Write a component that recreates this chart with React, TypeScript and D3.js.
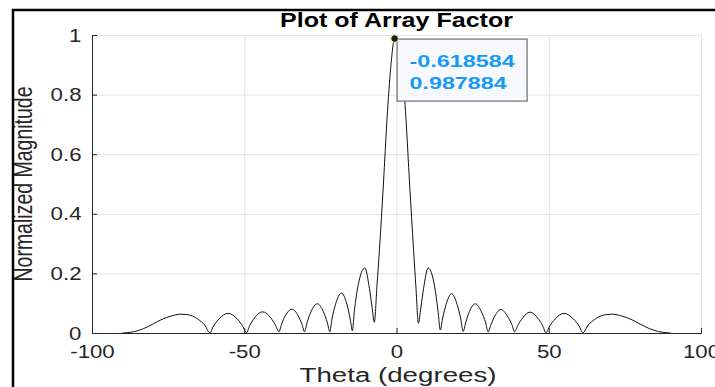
import * as d3 from 'd3';
import { useEffect, useRef } from 'react';

const thetaDeg = [
  -90, -88.5, -86, -83, -80, -77, -74, -71, -69, -67, -65, -63, -61.3,
  -60.1, -58.3, -55.3, -52.3, -50.5, -49.3,
  -48.2, -46.6, -44.0, -41.3, -39.7, -38.6,
  -37.8, -36.5, -34.4, -32.3, -31.0, -30.2,
  -29.4, -28.1, -26.0, -24.0, -22.7, -21.9,
  -21.2, -20.0, -18.1, -16.3, -15.2, -14.5,
  -13.8, -12.6, -10.4, -8.9, -8.0, -7.3,
  -6.4, -5.6, -4.3, -3.1, -1.9, -0.618584, 0.62, 1.9, 3.1, 4.3, 5.6, 6.4, 7.2,
  8.0, 8.9, 10.4, 12.5, 13.6, 14.4,
  15.1, 16.3, 18.1, 19.9, 21.1, 21.9,
  22.7, 23.9, 25.9, 27.9, 29.3, 30.1,
  31.0, 32.3, 34.3, 36.4, 37.9, 38.8,
  39.8, 41.4, 43.8, 46.4, 48.0, 49.1,
  50.3, 52.1, 55.0, 58.1, 60.0, 61.2,
  63, 65, 67, 69, 71, 74, 77, 80, 83, 86, 88.5, 90,
];
const magnitude = [
  0, 0.001, 0.005, 0.015, 0.03, 0.046, 0.057, 0.063, 0.062, 0.057, 0.045, 0.027, 0.001,
  0.023, 0.047, 0.066, 0.047, 0.023, 0.001,
  0.025, 0.051, 0.071, 0.051, 0.025, 0.004,
  0.028, 0.058, 0.08, 0.058, 0.028, 0.004,
  0.034, 0.071, 0.098, 0.071, 0.034, 0.004,
  0.047, 0.097, 0.134, 0.097, 0.047, 0.008,
  0.077, 0.16, 0.218, 0.15, 0.085, 0.036,
  0.16, 0.28, 0.5, 0.72, 0.89, 0.987884, 0.988, 0.89, 0.72, 0.5, 0.28, 0.15, 0.033,
  0.085, 0.15, 0.218, 0.157, 0.077, 0.01,
  0.047, 0.096, 0.132, 0.096, 0.047, 0.005,
  0.034, 0.071, 0.098, 0.071, 0.034, 0.004,
  0.028, 0.057, 0.079, 0.057, 0.028, 0.004,
  0.025, 0.05, 0.07, 0.05, 0.025, 0.001,
  0.023, 0.047, 0.066, 0.047, 0.023, 0.001,
  0.027, 0.045, 0.057, 0.062, 0.063, 0.057, 0.046, 0.03, 0.015, 0.005, 0.001, 0,
];
const xTicks = [-100, -50, 0, 50, 100];
const yTicks = [0, 0.2, 0.4, 0.6, 0.8, 1];
const tipTheta = -0.618584;
const tipValue = 0.987884;

const width = 715;
const height = 387;
const font = "'Liberation Sans', Arial, Helvetica, sans-serif";

const App = () => {
  const ref = useRef<SVGSVGElement>(null);

  useEffect(() => {
    const svg = d3.select(ref.current);
    svg.selectAll('*').remove();

    const x = d3.scaleLinear().domain([-100, 100]).range([92, 701]);
    const y = d3.scaleLinear().domain([0, 1]).range([333, 35]);
    const plotH = y(0) - y(1);
    const plotW = x(100) - x(-100);

    // grid
    svg.append('g')
      .attr('transform', 'translate(0,' + y(0) + ')')
      .call(d3.axisBottom(x).tickValues(xTicks).tickSize(-plotH).tickFormat(() => ''))
      .call((g) => g.select('.domain').remove())
      .selectAll('line').attr('stroke', '#e4e4e4');
    svg.append('g')
      .attr('transform', 'translate(' + x(-100) + ',0)')
      .call(d3.axisLeft(y).tickValues(yTicks).tickSize(-plotW).tickFormat(() => ''))
      .call((g) => g.select('.domain').remove())
      .selectAll('line').attr('stroke', '#e4e4e4');

    // curve
    const line = d3.line<number>()
      .x((d, i) => x(thetaDeg[i]))
      .y((d) => y(d))
      .curve(d3.curveMonotoneX);
    svg.append('path')
      .attr('d', line(magnitude) as string)
      .attr('fill', 'none')
      .attr('stroke', '#111')
      .attr('stroke-width', 1);

    // axes, MATLAB style ticks pointing inward
    const xAxis = svg.append('g')
      .attr('transform', 'translate(0,' + y(0) + ')')
      .call(d3.axisBottom(x).tickValues(xTicks).tickSizeInner(-5).tickSizeOuter(0).tickPadding(12)
        .tickFormat((d: any) => String(d)));
    const yAxis = svg.append('g')
      .attr('transform', 'translate(' + x(-100) + ',0)')
      .call(d3.axisLeft(y).tickValues(yTicks).tickSizeInner(-5).tickSizeOuter(0).tickPadding(9)
        .tickFormat((d: any) => String(d)));
    [xAxis, yAxis].forEach((g) => {
      g.select('.domain').attr('stroke', '#262626');
      g.selectAll('line').attr('stroke', '#262626');
      g.selectAll('text')
        .attr('fill', '#262626')
        .style('font-family', font)
        .style('font-size', '19px')
        .attr('transform', 'scale(1.17,1)');
    });

    // labels
    svg.append('text')
      .attr('x', (x(-100) + x(100)) / 2)
      .attr('y', 27)
      .attr('text-anchor', 'middle')
      .attr('textLength', 233)
      .attr('lengthAdjust', 'spacingAndGlyphs')
      .style('font-family', font)
      .style('font-weight', 'bold')
      .style('font-size', '20px')
      .attr('fill', '#000')
      .text('Plot of Array Factor');
    svg.append('text')
      .attr('x', 398)
      .attr('y', 382)
      .attr('text-anchor', 'middle')
      .attr('textLength', 197)
      .attr('lengthAdjust', 'spacingAndGlyphs')
      .style('font-family', font)
      .style('font-size', '20px')
      .attr('fill', '#262626')
      .text('Theta (degrees)');
    svg.append('text')
      .attr('transform', 'translate(32,' + (y(0) + y(1)) / 2 + ') scale(1.3,1) rotate(-90)')
      .attr('text-anchor', 'middle')
      .style('font-family', font)
      .style('font-size', '19.5px')
      .attr('fill', '#262626')
      .text('Normalized Magnitude');

    // data tip
    const tx = x(tipTheta);
    const ty = y(tipValue);
    svg.append('rect')
      .attr('x', tx + 2.5)
      .attr('y', ty + 0.5)
      .attr('width', 130)
      .attr('height', 62)
      .attr('fill', '#f8f8ff')
      .attr('stroke', '#8a8a8a')
      .attr('stroke-width', 1.5);
    const tipText = svg.append('g').style('font-family', font).style('font-weight', 'bold')
      .style('font-size', '16px').attr('fill', '#169bf5');
    tipText.append('text').attr('x', tx + 15).attr('y', ty + 28)
      .attr('textLength', 105).attr('lengthAdjust', 'spacingAndGlyphs').text(String(tipTheta));
    tipText.append('text').attr('x', tx + 15).attr('y', ty + 50)
      .attr('textLength', 97).attr('lengthAdjust', 'spacingAndGlyphs').text(String(tipValue));
    svg.append('circle')
      .attr('cx', tx)
      .attr('cy', ty)
      .attr('r', 3.8)
      .attr('fill', '#1f1f1f')
      .attr('stroke', '#f5f0a0')
      .attr('stroke-width', 1);

    // frame of the screenshot
    svg.append('path')
      .attr('d', 'M13,' + height + 'V10H' + width)
      .attr('fill', 'none')
      .attr('stroke', '#000')
      .attr('stroke-width', 2.5);
  }, []);

  return (
    <svg
      ref={ref}
      width={width}
      height={height}
      style={{ position: 'fixed', left: 0, top: 0, background: '#fff' }}
    />
  );
};

export default App;
